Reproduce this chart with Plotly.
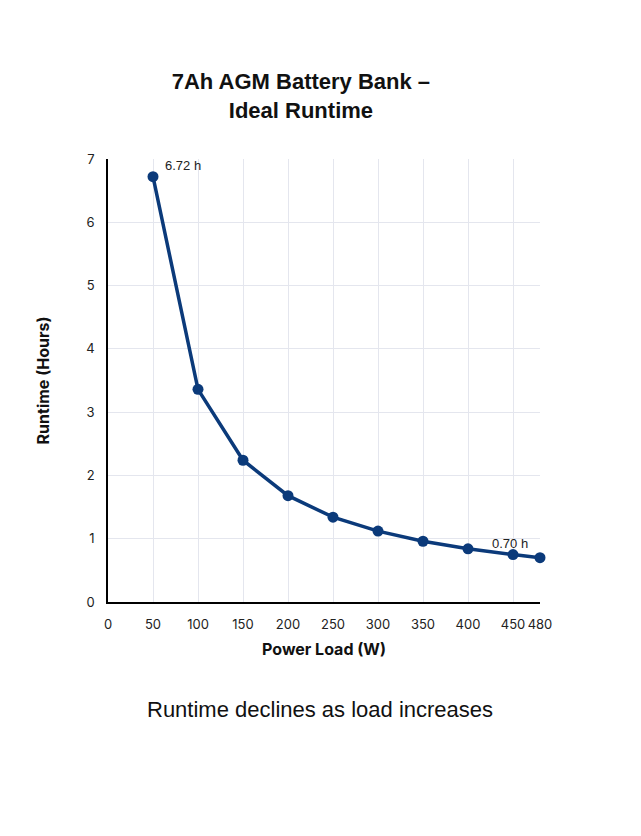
import plotly.graph_objects as go

# Data
power_load_w = [50, 100, 150, 200, 250, 300, 350, 400, 450, 480]
runtime_h = [6.72, 3.36, 2.24, 1.68, 1.34, 1.12, 0.96, 0.84, 0.75, 0.70]
x_ticks = [0, 50, 100, 150, 200, 250, 300, 350, 400, 450, 480]
y_ticks = [0, 1, 2, 3, 4, 5, 6, 7]

LINE_COLOR = '#0b3a7a'
TICK_FONT = dict(family='Inter, Arial, sans-serif', size=13, color='#222222')
TITLE_FONT = 'Arial, Liberation Sans, sans-serif'

fig = go.Figure()

fig.add_trace(go.Scatter(
    x=power_load_w,
    y=runtime_h,
    mode='lines+markers',
    line=dict(color=LINE_COLOR, width=3.5),
    marker=dict(color=LINE_COLOR, size=11),
    showlegend=False,
    cliponaxis=False,
))

# Labels at first and last point
fig.add_annotation(x=power_load_w[0], y=runtime_h[0], text=f'{runtime_h[0]:.2f} h',
                   showarrow=False, xanchor='left', yanchor='bottom',
                   xshift=10, yshift=2,
                   font=dict(family=TITLE_FONT, size=13, color='#222222'))
fig.add_annotation(x=power_load_w[-1], y=runtime_h[-1], text=f'{runtime_h[-1]:.2f} h',
                   showarrow=False, xanchor='right', yanchor='bottom',
                   xshift=-10, yshift=5,
                   font=dict(family=TITLE_FONT, size=13, color='#222222'))

# Caption under the chart
fig.add_annotation(x=0.49, y=0, xref='paper', yref='paper',
                   text='Runtime declines as load increases',
                   showarrow=False, xanchor='center', yanchor='middle',
                   yshift=-107,
                   font=dict(family=TITLE_FONT, size=22, color='#111111'))

fig.update_layout(
    width=641,
    height=836,
    paper_bgcolor='white',
    plot_bgcolor='white',
    margin=dict(l=100, r=109, t=151, b=242),
    title=dict(
        text='<b>7Ah AGM Battery Bank –<br>Ideal Runtime</b>',
        x=0.457, xanchor='center', y=0.903, yanchor='middle',
        font=dict(family=TITLE_FONT, size=22, color='#111111'),
    ),
    xaxis=dict(
        range=[0, 480],
        tickvals=x_ticks,
        ticktext=[str(v) for v in x_ticks],
        showgrid=True,
        gridcolor='#e4e6ee',
        gridwidth=1,
        zeroline=False,
        showline=True,
        linecolor='black',
        linewidth=1.5,
        ticks='',
        ticklabelstandoff=10,
        tickfont=TICK_FONT,
        title=dict(text='<b>Power Load (W)</b>', standoff=12,
                   font=dict(family=TICK_FONT['family'], size=16, color='#111111')),
    ),
    yaxis=dict(
        range=[0, 7],
        tickvals=y_ticks,
        showgrid=True,
        gridcolor='#e4e6ee',
        gridwidth=1,
        zeroline=False,
        showline=True,
        linecolor='black',
        linewidth=1.5,
        ticks='',
        ticklabelstandoff=9,
        tickfont=TICK_FONT,
        title=dict(text='<b>Runtime (Hours)</b>', standoff=33,
                   font=dict(family=TICK_FONT['family'], size=16, color='#111111')),
    ),
)

fig.write_html('out.html')
